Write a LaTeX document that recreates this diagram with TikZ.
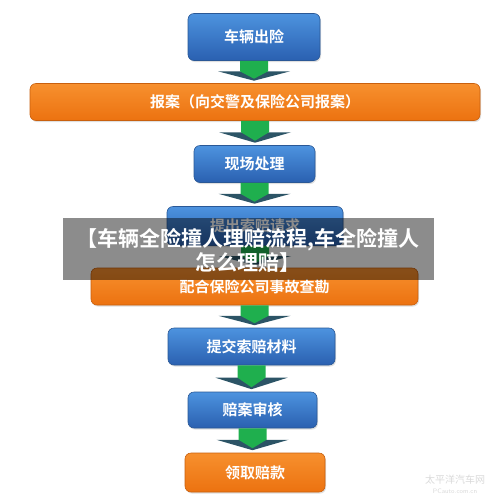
\documentclass[tikz,border=0pt]{standalone}
\usepackage{fontspec}
\newfontfamily\cjk{Noto Sans CJK SC}[BoldFont={Noto Sans CJK SC Bold}]
\usetikzlibrary{calc,shadows}
\definecolor{bluetop}{HTML}{4D93DF}
\definecolor{bluebot}{HTML}{2A60B0}
\definecolor{blueedge}{HTML}{2A5896}
\definecolor{orgtop}{HTML}{F7902E}
\definecolor{orgbot}{HTML}{EC7210}
\definecolor{orgedge}{HTML}{C9600E}
\definecolor{arrgreen}{HTML}{1FAF4E}
\definecolor{arrdark}{HTML}{2C5466}
\definecolor{wmark}{HTML}{DADADA}
\tikzset{
  x=1pt,y=-1pt,
  boxbase/.style={rounded corners=6pt, text=white, font=\cjk\bfseries\fontsize{15}{17}\selectfont,
    inner sep=0pt, drop shadow={shadow xshift=1pt,shadow yshift=-1.5pt,opacity=0.25}},
  bluebox/.style={boxbase, draw=blueedge, line width=0.6pt, top color=bluetop, bottom color=bluebot},
  orangebox/.style={boxbase, draw=orgedge, line width=0.6pt, top color=orgtop, bottom color=orgbot},
}
\newcommand{\flowarrow}[2]{%
  \coordinate (s#1) at (#1.south);
  \coordinate (e#1) at (#1.south |- #2.north);
  \coordinate (m#1) at ($(s#1)!0.47!(e#1)$);
  \coordinate (t#1) at ($(e#1)+(0,-2.5)$);
  \fill[arrdark] ($(m#1)+(-36,0)$) -- ($(m#1)+(36,0)$) -- (t#1) -- cycle;
  \fill[arrgreen] ($(s#1)+(-14,0)$) -- ($(s#1)+(14,0)$) -- ($(m#1)+(14,0)$) -- ($(t#1)+(0,-2)$) -- ($(m#1)+(-14,0)$) -- cycle;
}
\begin{document}
\begin{tikzpicture}
\useasboundingbox[fill=white] (0,0) rectangle (500,499);
\node[bluebox, minimum width=132pt, minimum height=47pt] (b1) at (254,37) {车辆出险};
\node[orangebox, minimum width=450pt, minimum height=37pt] (b2) at (255,102) {报案（向交警及保险公司报案）};
\node[bluebox, minimum width=121pt, minimum height=37pt] (b3) at (254.5,164) {现场处理};
\node[bluebox, minimum width=176pt, minimum height=39pt] (b4) at (255,226) {提出索赔请求};
\node[orangebox, minimum width=327pt, minimum height=37pt] (b5) at (254.5,286.5) {配合保险公司事故查勘};
\node[bluebox, minimum width=167pt, minimum height=37pt] (b6) at (251.5,346.5) {提交索赔材料};
\node[bluebox, minimum width=129pt, minimum height=36pt] (b7) at (252.5,410) {赔案审核};
\node[orangebox, minimum width=140pt, minimum height=39pt] (b8) at (255,472.5) {领取赔款};
\flowarrow{b1}{b2}
\flowarrow{b2}{b3}
\flowarrow{b3}{b4}
\flowarrow{b4}{b5}
\flowarrow{b5}{b6}
\flowarrow{b6}{b7}
\flowarrow{b7}{b8}
% watermark
\node[text=wmark, font=\cjk\fontsize{10}{11}\selectfont, inner sep=0pt] (wm1) at (455,480) {太平洋汽车网};
\node[text=wmark, font=\sffamily\fontsize{6.5}{7}\selectfont, inner sep=0pt] (wm2) at (455,491) {PCauto.com.cn};
% overlay band
\fill[black, opacity=0.45] (63,218) rectangle (434,280);
\node[text=white, font=\cjk\bfseries\fontsize{21}{24}\selectfont, inner sep=0pt, align=center] (title) at (248,250)
  {【车辆全险撞人理赔流程,车全险撞人\\怎么理赔】};
\end{tikzpicture}
\end{document}
